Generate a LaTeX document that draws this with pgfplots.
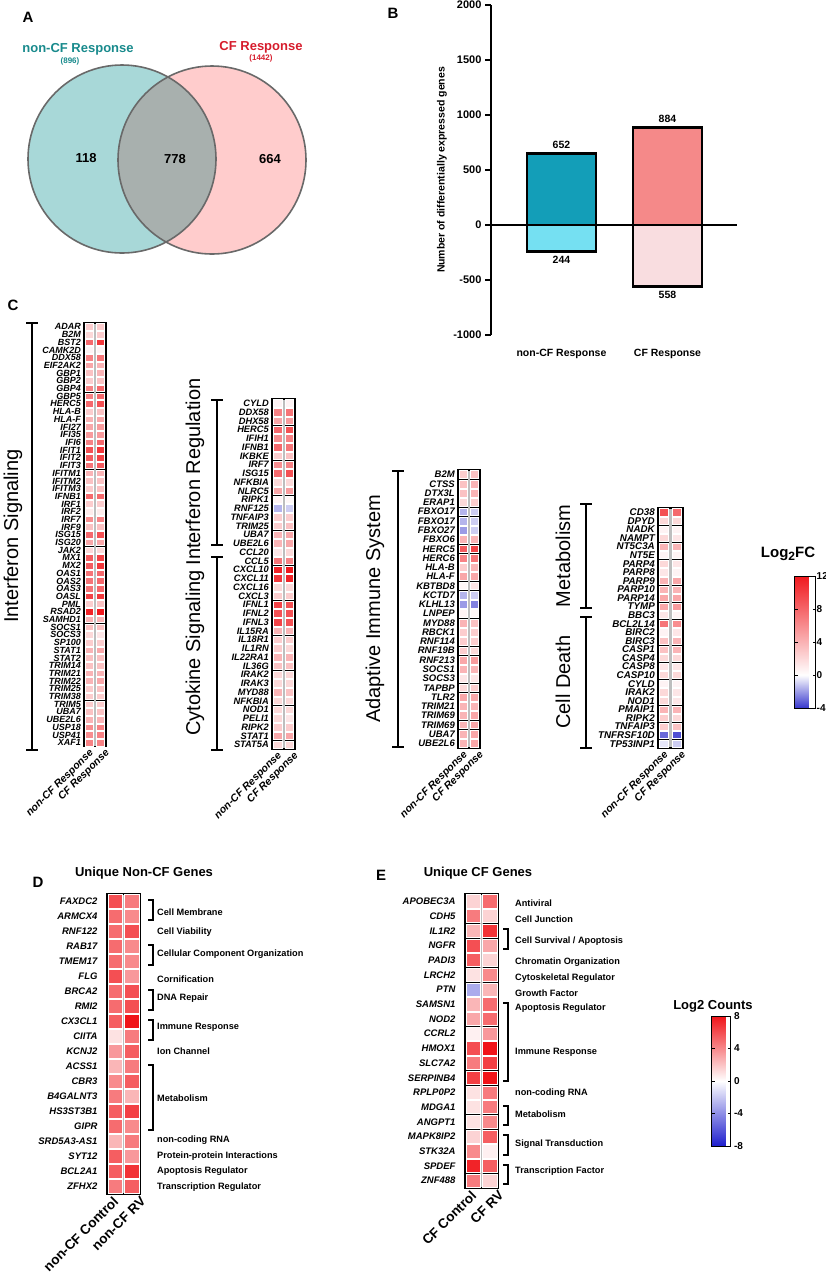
\documentclass[border=0pt]{standalone}
\usepackage{fontspec}
\setmainfont{Liberation Sans}
\usepackage{pgfplots}
\usepackage{pgfplotstable}
\pgfplotsset{compat=1.18}

\newcommand\fs[1]{\fontsize{#1}{#1}\selectfont}

\definecolor{vL}{RGB}{168,216,216}
\definecolor{vR}{RGB}{255,204,204}
\definecolor{vI}{RGB}{168,176,174}
\definecolor{vE}{RGB}{105,105,105}
\definecolor{tealT}{RGB}{24,138,140}
\definecolor{redT}{RGB}{214,28,44}
\definecolor{bU}{RGB}{19,158,184}
\definecolor{bD}{RGB}{117,224,242}
\definecolor{cU}{RGB}{245,137,137}
\definecolor{cD}{RGB}{249,221,224}
\definecolor{sepc}{RGB}{190,190,190}

\pgfplotsset{
  colormap={fc}{rgb255(0pt)=(55,55,205) rgb255(4pt)=(255,255,255) rgb255(16pt)=(240,25,30)},
  colormap={lc}{rgb255(0pt)=(30,30,205) rgb255(8pt)=(255,255,255) rgb255(16pt)=(240,20,25)},
  cell/.style={scatter, only marks, mark=square*, point meta=explicit,
    scatter/use mapped color={draw=white, fill=mapped color}},
  hm/.style={anchor=north west, scale only axis, enlargelimits=false, clip=false, axis on top,
    xmin=-0.5, xmax=1.5, ymin=-0.5, y dir=reverse,
    axis background/.style={fill=black}, axis line style={line width=1.3pt},
    xtick={0,1}, major tick length=0pt, tick style={draw=none},
    every x tick label/.style={xshift={\ticknum*5pt-1pt}, rotate=45, anchor=north east,
      inner sep=1pt, font=\fs{10.5}\bfseries\itshape},
    xticklabels={non-CF Response,CF Response}},
  hmC/.style={hm, colormap name=fc, point meta min=-4, point meta max=12,
    yticklabel style={inner sep=0.5pt, xshift=-2.5pt}},
  hmDE/.style={hm, colormap name=lc, point meta min=-8, point meta max=8,
    yticklabel style={font=\fs{9.5}\bfseries\itshape, xshift=-6pt},
    every x tick label/.style={xshift={\ticknum*11pt-3pt}, rotate=45, anchor=north east,
      inner sep=1pt, font=\fs{13.5}\bfseries}},
}

% #1 table, #2 half side of a cell, #3 horizontal stretch of a cell
\newcommand\hm[3]{%
  \addplot[cell, mark size=#2, mark options={line width=0.55pt, xscale=#3}]
    table[x expr=0, y expr=\coordindex, meta=a]{#1};
  \addplot[cell, mark size=#2, mark options={line width=0.55pt, xscale=#3}]
    table[x expr=1, y expr=\coordindex, meta=b]{#1};}
\newcommand\sep[1]{\draw[sepc, line width=2.2pt] (axis cs:0.5,-0.5) -- (axis cs:0.5,#1);}

% Interferon Signaling
\pgfplotstableread{
gene a b
ADAR 2.6 2.6
B2M 2 2.6
BST2 7.8 10.4
CAMK2D 0.6 0.6
DDX58 6.5 7.2
EIF2AK2 4.6 3.9
GBP1 3.2 3.9
GBP2 2.6 3.2
GBP4 6.5 7.8
GBP5 6.5 7.8
HERC5 7.8 9.1
HLA-B 2.6 3.2
HLA-F 3.9 4.6
IFI27 4.6 5.2
IFI35 5.2 5.2
IFI6 6.5 7.8
IFIT1 9.1 10.4
IFIT2 8.5 9.8
IFIT3 7.2 8.5
IFITM1 3.9 3.9
IFITM2 3.2 3.2
IFITM3 2.6 3.2
IFNB1 7.8 7.8
IRF1 2.6 2.6
IRF2 1 1
IRF7 5.9 6.5
IRF9 3.2 3.2
ISG15 7.8 9.1
ISG20 4.6 4.6
JAK2 2 2
MX1 8.5 9.8
MX2 8.5 10.4
OAS1 7.2 7.8
OAS2 7.2 7.8
OAS3 7.2 7.8
OASL 9.8 10.4
PML 2.6 3.2
RSAD2 11.5 12
SAMHD1 3.9 3.9
SOCS1 3.2 3.2
SOCS3 2 1.3
SP100 2.6 2.6
STAT1 3.9 4.6
STAT2 3.2 3.2
TRIM14 3.2 3.2
TRIM21 3.9 3.9
TRIM22 3.9 4.6
TRIM25 2.6 3.2
TRIM38 2.6 2.6
TRIM5 2.6 2.6
UBA7 3.2 3.2
UBE2L6 3.9 3.9
USP18 5.9 6.5
USP41 5.9 6.5
XAF1 6.5 6.5
}\tIS

% Interferon Regulation + Cytokine Signaling
\pgfplotstableread{
gene a b
CYLD 0.6 0.6
DDX58 6.5 7.2
DHX58 4.6 5.2
HERC5 7.8 9.1
IFIH1 5.9 6.5
IFNB1 7.8 7.2
IKBKE 2.6 3.2
IRF7 5.9 6.5
ISG15 7.8 9.1
NFKBIA 2 2
NLRC5 4.6 5.2
RIPK1 0.6 0.4
RNF125 -1.5 -1
TNFAIP3 2.6 2.6
TRIM25 2.6 3.2
UBA7 3.9 4.6
UBE2L6 3.9 4.6
CCL20 1.3 2
CCL5 7.2 6.5
CXCL10 11.5 12
CXCL11 10.5 11.5
CXCL16 2 2
CXCL3 2.6 2.6
IFNL1 9.8 9.1
IFNL2 9.1 9.1
IFNL3 9.8 9.1
IL15RA 3.9 3.9
IL18R1 2.6 2.6
IL1RN 2.6 2
IL22RA1 3.9 3.9
IL36G 3.2 3.2
IRAK2 2 2
IRAK3 2 2
MYD88 3.9 3.2
NFKBIA 2 2
NOD1 2 2
PELI1 2 1.3
RIPK2 2.6 2.6
STAT1 4.6 4.6
STAT5A 2 2
}\tIR

% Adaptive Immune System
\pgfplotstableread{
gene a b
B2M 2.6 3.2
CTSS 3.2 3.9
DTX3L 3.2 3.9
ERAP1 2 2.6
FBXO17 -1.5 -1
FBXO17 -1.5 -1
FBXO27 -2 -1
FBXO6 3.9 3.9
HERC5 8.5 9.8
HERC6 6.5 7.2
HLA-B 2.6 3.9
HLA-F 4.6 4.6
KBTBD8 0.4 1.3
KCTD7 -1.5 -1
KLHL13 -2 -2.5
LNPEP 0.6 0.4
MYD88 3.9 3.2
RBCK1 2.6 2.6
RNF114 2.6 2.6
RNF19B 2.6 2
RNF213 4.6 5.2
SOCS1 3.9 3.9
SOCS3 1.3 1.3
TAPBP 2 2.6
TLR2 4.6 4.6
TRIM21 3.9 3.9
TRIM69 3.9 4.6
TRIM69 3.9 4.6
UBA7 3.9 4.6
UBE2L6 3.9 4.6
}\tAD

% Metabolism + Cell Death
\pgfplotstableread{
gene a b
CD38 9.1 7.8
DPYD 2 2
NADK 0.6 0.6
NAMPT 2 1.3
NT5C3A 3.9 3.9
NT5E 0.6 0.6
PARP4 2 1.3
PARP8 1.3 0.6
PARP9 3.9 4.6
PARP10 3.9 3.9
PARP14 4.6 4.6
TYMP 4.6 5.2
BBC3 1.3 0.6
BCL2L14 7.2 5.9
BIRC2 0.6 1.3
BIRC3 3.2 3.9
CASP1 3.2 3.9
CASP4 2 2
CASP8 1.3 1.3
CASP10 2 2
CYLD 0.6 0.6
IRAK2 2 1.3
NOD1 2 1.3
PMAIP1 3.9 3.9
RIPK2 2.6 2
TNFAIP3 2.6 3.2
TNFRSF10D -3 -3.5
TP53INP1 -0.5 -1
}\tMC

% Unique non-CF genes
\pgfplotstableread{
gene a b
FAXDC2 6 4.5
ARMCX4 5 4
RNF122 5 6
RAB17 5 4
TMEM17 5 4
FLG 6 3.5
BRCA2 5 6
RMI2 5 6
CX3CL1 5.5 8
CIITA 1 4.5
KCNJ2 3.5 5.5
ACSS1 2.5 4.5
CBR3 4 5.5
B4GALNT3 4.5 2.5
HS3ST3B1 5.5 6.5
GIPR 5 4
SRD5A3-AS1 2.5 4.5
SYT12 5.5 3.5
BCL2A1 5.5 7
ZFHX2 4.5 5.5
}\tD

% Unique CF genes
\pgfplotstableread{
gene a b
APOBEC3A 1.5 5
CDH5 4.5 1.5
IL1R2 2.5 7
NGFR 6 3
PADI3 5.5 1.5
LRCH2 1 4
PTN -3 2.5
SAMSN1 2.5 5
NOD2 3 5
CCRL2 0.5 3.5
HMOX1 6 8
SLC7A2 4.5 6.5
SERPINB4 6.5 8
RPLP0P2 1 4.5
MDGA1 1 4.5
ANGPT1 1 4
MAPK8IP2 1.5 5.5
STK32A 4 0.5
SPDEF 7.5 5.5
ZNF488 4.5 1.5
}\tE

\begin{document}
\begin{tikzpicture}
\useasboundingbox (0,0) rectangle (826pt,-1278pt);

% ---------- panel letters ----------
\node[font=\fs{15}\bfseries] at (28pt,-17pt) {A};
\node[font=\fs{15}\bfseries] at (393pt,-13pt) {B};
\node[font=\fs{15}\bfseries] at (13pt,-305pt) {C};
\node[font=\fs{15}\bfseries] at (38pt,-882pt) {D};
\node[font=\fs{15}\bfseries] at (381pt,-875pt) {E};

% ---------- A: Venn ----------
\begin{axis}[at={(0pt,0pt)}, anchor=north west, scale only axis, width=330pt, height=290pt,
  xmin=0, xmax=330, ymin=0, ymax=290, y dir=reverse, hide axis, clip=false]
\fill[vL] (axis cs:122,159) circle[radius=94pt];
\fill[vR] (axis cs:212,160) circle[radius=94pt];
\begin{scope}
\clip (axis cs:122,159) circle[radius=94pt];
\fill[vI] (axis cs:212,160) circle[radius=94pt];
\end{scope}
\draw[vE, line width=1.6pt] (axis cs:122,159) circle[radius=94pt];
\draw[vE, line width=1.6pt] (axis cs:212,160) circle[radius=94pt];
\node[font=\fs{13}\bfseries] at (axis cs:86,158) {118};
\node[font=\fs{13}\bfseries] at (axis cs:175,159) {778};
\node[font=\fs{13}\bfseries] at (axis cs:270,159) {664};
\node[font=\fs{13}\bfseries, tealT] at (axis cs:78,49) {non-CF Response};
\node[font=\fs{8}\bfseries, tealT] at (axis cs:70,61) {(896)};
\node[font=\fs{13}\bfseries, redT] at (axis cs:261,47) {CF Response};
\node[font=\fs{8}\bfseries, redT] at (axis cs:261,58) {(1442)};
\end{axis}

% ---------- B: bars ----------
\begin{axis}[at={(491pt,-5pt)}, anchor=north west, scale only axis, width=246pt, height=330pt,
  xmin=-0.665, xmax=1.656, ymin=-1000, ymax=2000, enlargelimits=false, clip=false,
  axis y line=left, axis x line=bottom, axis line style={-},
  x axis line style={draw=none}, y axis line style={line width=2pt},
  xtick={0,1}, xticklabels={non-CF Response,CF Response}, xtick style={draw=none},
  ytick={-1000,-500,...,2000}, ytick style={line width=2pt, black},
  tick align=outside, major tick length=6pt,
  /pgf/number format/assume math mode=true, /pgf/number format/1000 sep={},
  yticklabel style={font=\fs{11}\bfseries},
  xticklabel style={font=\fs{10.5}\bfseries, yshift=-5pt},
  ylabel={Number of differentially expressed genes},
  ylabel style={font=\fs{10.5}\bfseries, at={(axis description cs:-0.199,0.5)}, anchor=center}]
\addplot[ybar, bar width=69pt, bar shift=0pt, fill=bU, draw=black, line width=2.8pt,
  nodes near coords, point meta=explicit symbolic,
  nodes near coords style={font=\fs{10.5}\bfseries, anchor=south}] coordinates {(0,652) [652]};
\addplot[ybar, bar width=69pt, bar shift=0pt, fill=bD, draw=black, line width=2.8pt,
  nodes near coords, point meta=explicit symbolic,
  nodes near coords style={font=\fs{10.5}\bfseries, anchor=north}] coordinates {(0,-244) [244]};
\addplot[ybar, bar width=69pt, bar shift=0pt, fill=cU, draw=black, line width=2.8pt,
  nodes near coords, point meta=explicit symbolic,
  nodes near coords style={font=\fs{10.5}\bfseries, anchor=south}] coordinates {(1,884) [884]};
\addplot[ybar, bar width=69pt, bar shift=0pt, fill=cD, draw=black, line width=2.8pt,
  nodes near coords, point meta=explicit symbolic,
  nodes near coords style={font=\fs{10.5}\bfseries, anchor=north}] coordinates {(1,-558) [558]};
\addplot[black, line width=2pt] coordinates {(-0.665,0) (1.656,0)};
\end{axis}

% ---------- C: heatmaps ----------
\begin{axis}[hmC, at={(84pt,-323pt)}, width=22pt, height=423.5pt, ymax=54.5, ytick={0,...,54},
  yticklabels from table={\tIS}{gene}, yticklabel style={font=\fs{9}\bfseries\itshape}]
\hm{\tIS}{3.3pt}{1.22}
\sep{54.5}
\end{axis}

\begin{axis}[hmC, at={(272pt,-399pt)}, width=23pt, height=350pt, ymax=39.5, ytick={0,...,39},
  yticklabels from table={\tIR}{gene}, yticklabel style={font=\fs{9.3}\bfseries\itshape}]
\hm{\tIR}{3.7pt}{1.12}
\sep{39.5}
\end{axis}

\begin{axis}[hmC, at={(458pt,-470pt)}, width=22pt, height=278pt, ymax=29.5, ytick={0,...,29},
  yticklabels from table={\tAD}{gene}, yticklabel style={font=\fs{9.5}\bfseries\itshape}]
\hm{\tAD}{3.9pt}{1.0}
\sep{29.5}
\end{axis}

\begin{axis}[hmC, at={(658pt,-508pt)}, width=25pt, height=240pt, ymax=27.5, ytick={0,...,27},
  yticklabels from table={\tMC}{gene}, yticklabel style={font=\fs{9.8}\bfseries\itshape}]
\hm{\tMC}{3.6pt}{1.25}
\sep{27.5}
\end{axis}

% brackets and group titles in C
\begin{scope}[line width=1.5pt]
\draw (32pt,-323pt) -- (32pt,-750pt) (26pt,-323pt) -- (38pt,-323pt) (26pt,-750pt) -- (38pt,-750pt);
\draw (217pt,-400pt) -- (217pt,-545pt) (211pt,-400pt) -- (223pt,-400pt) (211pt,-545pt) -- (223pt,-545pt);
\draw (217pt,-557pt) -- (217pt,-750pt) (211pt,-557pt) -- (223pt,-557pt) (211pt,-750pt) -- (223pt,-750pt);
\draw (398pt,-471pt) -- (398pt,-747pt) (392pt,-471pt) -- (404pt,-471pt) (392pt,-747pt) -- (404pt,-747pt);
\draw (586pt,-504pt) -- (586pt,-608pt) (580pt,-504pt) -- (592pt,-504pt) (580pt,-608pt) -- (592pt,-608pt);
\draw (586pt,-617pt) -- (586pt,-748pt) (580pt,-617pt) -- (592pt,-617pt) (580pt,-748pt) -- (592pt,-748pt);
\end{scope}
\node[rotate=90, font=\fs{20}] at (13pt,-536pt) {Interferon Signaling};
\node[rotate=90, font=\fs{20}] at (195pt,-472pt) {Interferon Regulation};
\node[rotate=90, font=\fs{20}] at (195pt,-653pt) {Cytokine Signaling};
\node[rotate=90, font=\fs{20}] at (375pt,-609pt) {Adaptive Immune System};
\node[rotate=90, font=\fs{20}] at (563pt,-556pt) {Metabolism};
\node[rotate=90, font=\fs{20}] at (563pt,-682pt) {Cell Death};

% Log2FC colour bar
\begin{axis}[at={(786pt,-576pt)}, anchor=north west, scale only axis, width=21pt, height=132pt,
  hide axis, xmin=0, xmax=1, ymin=0, ymax=1,
  colormap name=fc, point meta min=-4, point meta max=12, colorbar,
  colorbar style={at={(parent axis.north west)}, anchor=north west, scale only axis,
    width=21pt, height=132pt, ytick={-4,0,4,8,12}, axis line style={line width=1pt},
    major tick length=3pt, tick style={black, line width=1pt},
    /pgf/number format/assume math mode=true,
    yticklabel style={font=\fs{10}\bfseries, inner sep=1pt}}]
\end{axis}
\node[font=\fs{15}\bfseries] at (788pt,-554pt) {Log\raisebox{-0.35ex}{\fs{12}2}FC};

% ---------- D ----------
\node[font=\fs{13}\bfseries] at (144pt,-873pt) {Unique Non-CF Genes};
\begin{axis}[hmDE, at={(107pt,-894pt)}, width=33pt, height=300pt, ymax=19.5, ytick={0,...,19},
  yticklabels from table={\tD}{gene}, xticklabels={non-CF Control,non-CF RV}]
\hm{\tD}{6.8pt}{1.08}
\sep{19.5}
\end{axis}
\begin{scope}[line width=1.8pt]
\draw (148pt,-900pt) -- (153pt,-900pt) -- (153pt,-920pt) -- (148pt,-920pt);
\draw (148pt,-945pt) -- (153pt,-945pt) -- (153pt,-965pt) -- (148pt,-965pt);
\draw (148pt,-990pt) -- (153pt,-990pt) -- (153pt,-1010pt) -- (148pt,-1010pt);
\draw (148pt,-1020pt) -- (153pt,-1020pt) -- (153pt,-1040pt) -- (148pt,-1040pt);
\draw (148pt,-1065pt) -- (153pt,-1065pt) -- (153pt,-1130pt) -- (148pt,-1130pt);
\end{scope}
\begin{scope}[every node/.style={anchor=west, font=\fs{9.2}\bfseries, inner sep=0pt}]
\node at (157pt,-912pt) {Cell Membrane};
\node at (157pt,-932pt) {Cell Viability};
\node at (157pt,-954pt) {Cellular Component Organization};
\node at (157pt,-979pt) {Cornification};
\node at (157pt,-998pt) {DNA Repair};
\node at (157pt,-1027pt) {Immune Response};
\node at (157pt,-1051pt) {Ion Channel};
\node at (157pt,-1098pt) {Metabolism};
\node at (157pt,-1140pt) {non-coding RNA};
\node at (157pt,-1156pt) {Protein-protein Interactions};
\node at (157pt,-1171pt) {Apoptosis Regulator};
\node at (157pt,-1187pt) {Transcription Regulator};
\end{scope}

% ---------- E ----------
\node[font=\fs{13}\bfseries] at (478pt,-873pt) {Unique CF Genes};
\begin{axis}[hmDE, at={(465pt,-894pt)}, width=33pt, height=294pt, ymax=19.5, ytick={0,...,19},
  yticklabels from table={\tE}{gene}, xticklabels={CF Control,CF RV}]
\hm{\tE}{6.6pt}{1.1}
\sep{19.5}
\end{axis}
\begin{scope}[line width=1.8pt]
\draw (503pt,-929pt) -- (508pt,-929pt) -- (508pt,-949pt) -- (503pt,-949pt);
\draw (503pt,-1003pt) -- (508pt,-1003pt) -- (508pt,-1081pt) -- (503pt,-1081pt);
\draw (503pt,-1106pt) -- (508pt,-1106pt) -- (508pt,-1125pt) -- (503pt,-1125pt);
\draw (503pt,-1135pt) -- (508pt,-1135pt) -- (508pt,-1155pt) -- (503pt,-1155pt);
\draw (503pt,-1165pt) -- (508pt,-1165pt) -- (508pt,-1184pt) -- (503pt,-1184pt);
\end{scope}
\begin{scope}[every node/.style={anchor=west, font=\fs{9.2}\bfseries, inner sep=0pt}]
\node at (515pt,-903pt) {Antiviral};
\node at (515pt,-919pt) {Cell Junction};
\node at (515pt,-941pt) {Cell Survival / Apoptosis};
\node at (515pt,-962pt) {Chromatin Organization};
\node at (515pt,-978pt) {Cytoskeletal Regulator};
\node at (515pt,-993pt) {Growth Factor};
\node at (515pt,-1008pt) {Apoptosis Regulator};
\node at (515pt,-1052pt) {Immune Response};
\node at (515pt,-1093pt) {non-coding RNA};
\node at (515pt,-1114pt) {Metabolism};
\node at (515pt,-1144pt) {Signal Transduction};
\node at (515pt,-1171pt) {Transcription Factor};
\end{scope}

% Log2 Counts colour bar
\begin{axis}[at={(703pt,-1016pt)}, anchor=north west, scale only axis, width=19pt, height=130pt,
  hide axis, xmin=0, xmax=1, ymin=0, ymax=1,
  colormap name=lc, point meta min=-8, point meta max=8, colorbar,
  colorbar style={at={(parent axis.north west)}, anchor=north west, scale only axis,
    width=19pt, height=130pt, ytick={-8,-4,0,4,8}, axis line style={line width=1pt},
    major tick length=3pt, tick style={black, line width=1pt},
    /pgf/number format/assume math mode=true,
    yticklabel style={font=\fs{10}\bfseries}}]
\end{axis}
\node[font=\fs{13}\bfseries] at (713pt,-1006pt) {Log2 Counts};

\end{tikzpicture}
\end{document}
